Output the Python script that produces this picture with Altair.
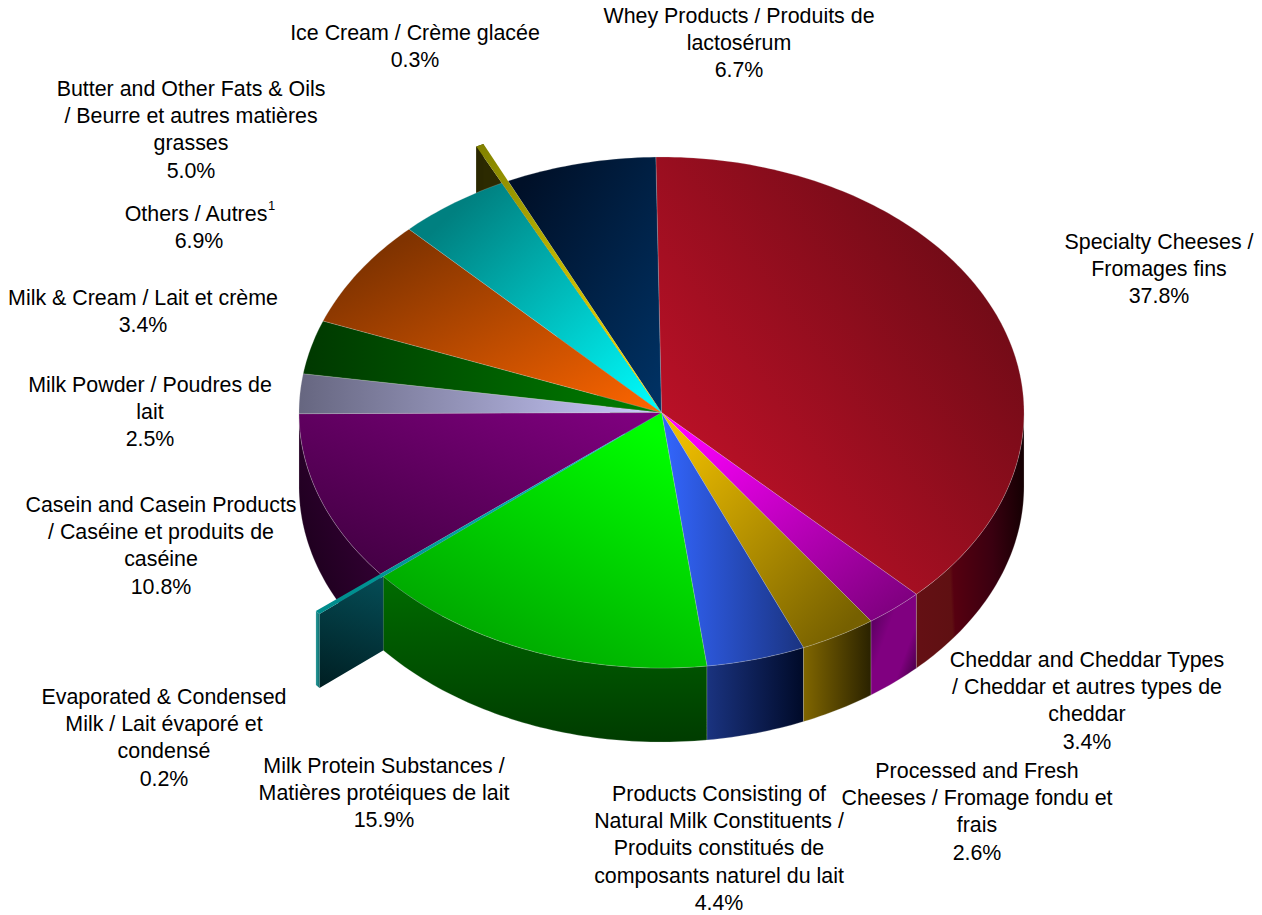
import math
import altair as alt

# ---- data ----
categories = ["Specialty Cheeses", "Processed and Fresh Cheeses", "Cheddar and Cheddar Types",
              "Products Consisting of Natural Milk Constituents", "Milk Protein Substances",
              "Evaporated & Condensed Milk", "Casein and Casein Products", "Milk Powder",
              "Milk & Cream", "Others", "Butter and Other Fats & Oils", "Ice Cream", "Whey Products"]
shares = [37.8, 2.6, 3.4, 4.4, 15.9, 0.2, 10.8, 2.5, 3.4, 6.9, 5.0, 0.3, 6.7]
pulled_out = [1, 1, 1, 1, 1, 1.23, 1, 1, 1, 1, 1, 1.16, 1]

label_lines = [
    ["Specialty Cheeses /", "Fromages fins", "37.8%"],
    ["Processed and Fresh", "Cheeses / Fromage fondu et", "frais", "2.6%"],
    ["Cheddar and Cheddar Types", "/ Cheddar et autres types de", "cheddar", "3.4%"],
    ["Products Consisting of", "Natural Milk Constituents /", "Produits constitués de",
     "composants naturel du lait", "4.4%"],
    ["Milk Protein Substances /", "Matières protéiques de lait", "15.9%"],
    ["Evaporated & Condensed", "Milk / Lait évaporé et", "condensé", "0.2%"],
    ["Casein and Casein Products", "/ Caséine et produits de", "caséine", "10.8%"],
    ["Milk Powder / Poudres de", "lait", "2.5%"],
    ["Milk & Cream / Lait et crème", "3.4%"],
    ["Others / Autres", "6.9%"],
    ["Butter and Other Fats & Oils", "/ Beurre et autres matières", "grasses", "5.0%"],
    ["Ice Cream / Crème glacée", "0.3%"],
    ["Whey Products / Produits de", "lactosérum", "6.7%"],
]
# ---- layout ----
label_cx = [1159, 977, 1087, 719, 384, 164, 161, 150, 143, 196, 191, 415, 739]
label_top = [243, 772, 661, 795, 767, 698, 506, 386, 299, 215, 90, 34, 17]
LINE = 27.2
CX, CY, RX, RY, DEPTH = 661.5, 412.5, 362.5, 255.5, 74
START = -0.9
FONT = "Liberation Sans"


def grad(x1, y1, x2, y2, *stops):
    n = len(stops) - 1
    st = []
    for i, s in enumerate(stops):
        if isinstance(s, tuple):
            st.append({"offset": s[0], "color": s[1]})
        else:
            st.append({"offset": i / n, "color": s})
    return {"gradient": "linear", "x1": x1, "y1": y1, "x2": x2, "y2": y2, "stops": st}


top_fill = [
    grad(1, .2, .2, .9, "#660a14", "#bf1128"),
    grad(.1, .05, .9, .95, "#ff00ff", "#800080"),
    grad(.1, .1, .9, .9, "#ecbc00", "#766000"),
    grad(0, .5, 1, .5, "#3366ff", "#1a3380"),
    grad(.8, .05, .2, .95, "#00ff00", "#00a000"),
    grad(1, 0, 0, 1, "#00c0c0", "#008a8a"),
    grad(1, .05, .1, 1, "#800080", "#400040"),
    grad(1, .5, 0, .5, "#ccccff", "#666680"),
    grad(1, .5, 0, .5, "#008000", "#003800"),
    grad(1, 1, .15, .15, "#ff6600", "#803300"),
    grad(1, 1, .15, .15, "#00ffff", "#008080"),
    grad(1, 1, 0, 0, "#ffe000", (.6, "#b8b000"), "#808000"),
    grad(1, 1, .1, .1, "#003366", "#001028"),
]
wall_fill = [
    grad(0, .55, 1, .45, "#641014", (.3, "#5f1012"), (.33, "#560010"), (.7, "#3a0010"), "#160003"),
    grad(0, .1, 1, .9, "#500058", (.35, "#800080"), (.7, "#800080"), "#3a003a"),
    grad(0, .5, 1, .5, "#806600", "#2a2200"),
    grad(0, .5, 1, .5, "#1a3380", "#000a28"),
    grad(.5, 0, .5, 1, "#006c00", "#003c00"),
    grad(0, .5, 1, .5, "#2a9a9a", "#0d6f6f"),
    grad(1, 0, 0, 1, "#3f0040", "#140014"),
    grad(0, .5, 1, .5, "#333340", "#666680"),
    grad(0, .5, 1, .5, "#003000", "#005000"),
    grad(0, .5, 1, .5, "#401900", "#803300"),
    grad(0, .5, 1, .5, "#004040", "#008080"),
    grad(0, .5, 1, .5, "#2a2800", "#2a2800"),
    grad(0, .5, 1, .5, "#001020", "#003366"),
]

# ---- geometry derived from the shares ----
total = sum(shares)
edges = [START]
for s in shares:
    edges.append(edges[-1] + s / total * 360)


def pt(t, r=1.0, dy=0.0):
    a = math.radians(t)
    return [CX + RX * r * math.sin(a), CY - RY * r * math.cos(a) + dy]


def arc(t0, t1, r=1.0, dy=0.0):
    n = max(2, int(abs(t1 - t0)) + 2)
    return [pt(t0 + (t1 - t0) * i / (n - 1), r, dy) for i in range(n)]


def feature(ring):
    ring = [list(p) for p in ring]
    ring.append(ring[0])
    return {"type": "Feature", "properties": {}, "geometry": {"type": "Polygon", "coordinates": [ring]}}


def shape(ring, fill, sep=True):
    kw = {"stroke": "#d8d8d8", "strokeWidth": 0.5, "strokeOpacity": 0.45} if sep else {"strokeWidth": 0}
    return alt.Chart(alt.Data(values=[feature(ring)])).mark_geoshape(fill=fill, **kw).project(
        type="identity", scale=1, translate=[-8, -8])


def radial_wall(t, r, fill):
    ring = [pt(t, 0), pt(t, r), pt(t, r, DEPTH), pt(t, 0, DEPTH)]
    return shape(ring, fill, sep=False)


def outer_wall(i):
    t0, t1 = edges[i], edges[i + 1]
    t0, t1 = max(t0, 90), min(t1, 270)
    r = pulled_out[i]
    if r != 1:
        t0, t1 = edges[i], edges[i + 1]
    top = arc(t0, t1, r)
    bot = arc(t1, t0, r, DEPTH)
    return shape(top + bot, wall_fill[i], sep=r == 1)


layers = []
ice, evap = 11, 5
# sliver side walls at the back
layers.append(radial_wall(edges[ice], pulled_out[ice], grad(0, 0, 1, 1, "#2c2a00", "#2c2a00")))
layers.append(outer_wall(ice))
# casein wall, then evaporated side, then the front walls
layers.append(outer_wall(6))
layers.append(radial_wall(edges[evap], pulled_out[evap],
                          grad(.2, .55, 0, 1, "#05525c", "#001e22")))
layers.append(outer_wall(evap))
for i in [4, 3, 2, 1, 0]:
    layers.append(outer_wall(i))
# top faces
for i in range(len(shares)):
    if i in (ice, evap):
        continue
    ring = [pt(0, 0)] + arc(edges[i], edges[i + 1])
    layers.append(shape(ring, top_fill[i]))
for i in (evap, ice):
    ring = [pt(0, 0)] + arc(edges[i], edges[i + 1], pulled_out[i])
    layers.append(shape(ring, top_fill[i], sep=False))

# ---- labels ----
rows = []
for lines, cx, top in zip(label_lines, label_cx, label_top):
    for k, line in enumerate(lines):
        x = cx
        if line == "6.9%":
            x = 199
        rows.append({"x": x - 8, "y": top + k * LINE - 8, "t": line})

sx = alt.Scale(domain=[0, 1246], range=[0, 1246])
sy = alt.Scale(domain=[0, 907], range=[0, 907])
labels = alt.Chart(alt.Data(values=rows)).mark_text(
    font=FONT, fontSize=21.4, color="#000000", align="center", baseline="middle"
).encode(x=alt.X("x:Q", scale=sx, axis=None), y=alt.Y("y:Q", scale=sy, axis=None), text="t:N")
sup = alt.Chart(alt.Data(values=[{"x": 260, "y": 198, "t": "1"}])).mark_text(
    font=FONT, fontSize=13, color="#000000", align="left", baseline="middle"
).encode(x=alt.X("x:Q", scale=sx, axis=None), y=alt.Y("y:Q", scale=sy, axis=None), text="t:N")
layers += [labels, sup]

chart = alt.layer(*layers).properties(width=1246, height=907, padding=0, background="#ffffff",
                                      autosize=alt.AutoSizeParams(type="none")).configure_view(stroke=None)
chart.save("out.html", embed_options={"renderer": "svg", "actions": False})
